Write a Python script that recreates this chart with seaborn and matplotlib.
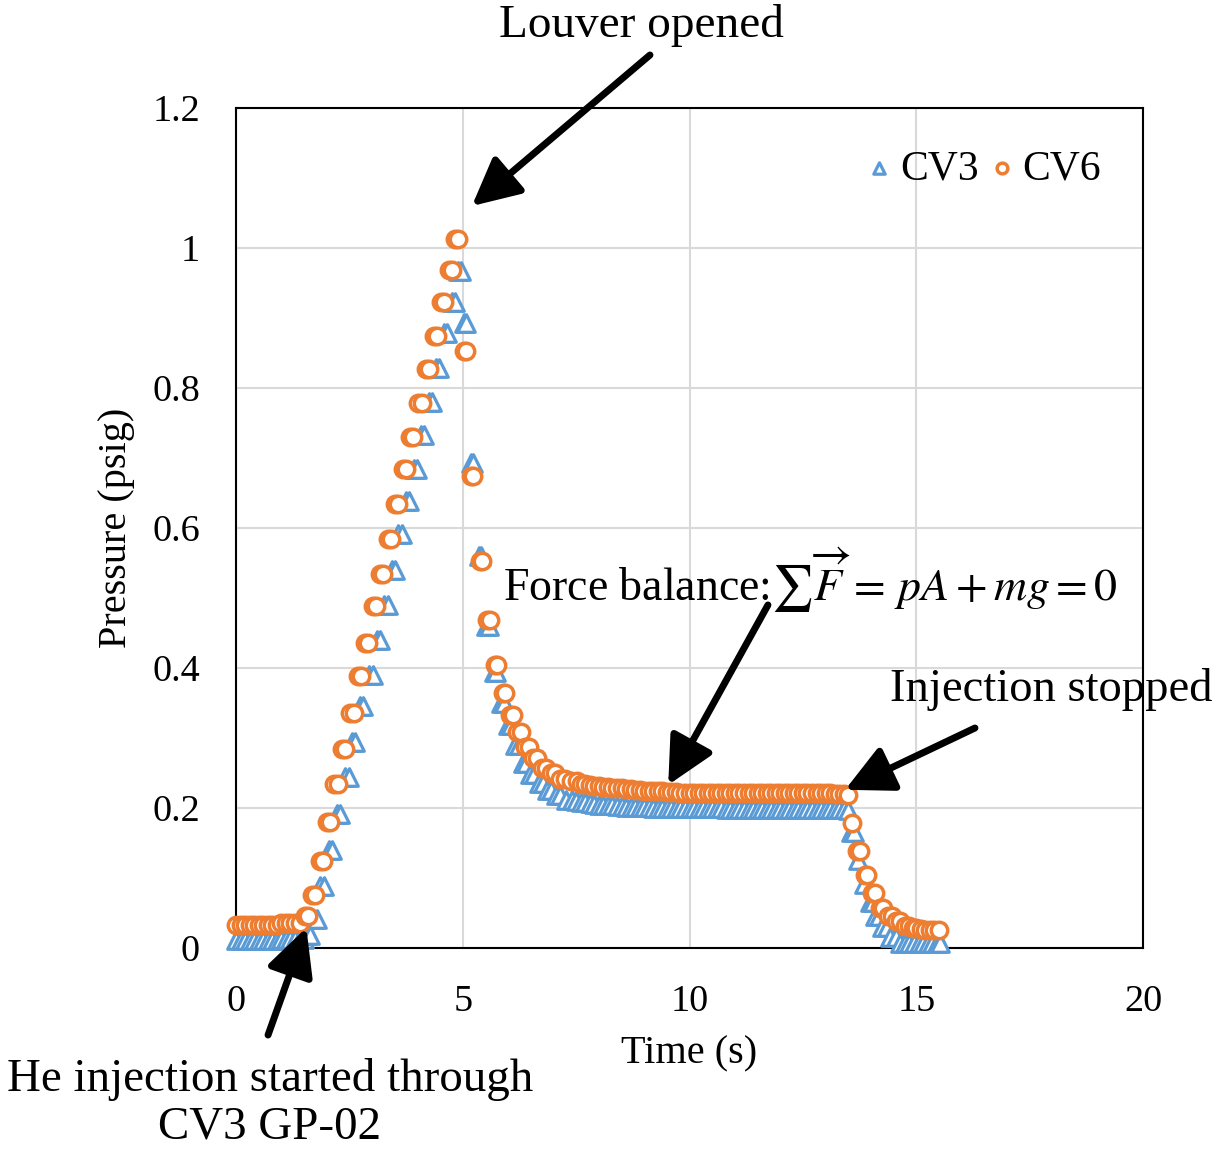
import pandas as pd
import numpy as np
import seaborn as sns
import matplotlib.pyplot as plt

# CV6 pressure readings (psig) vs time (s)
cv6_time = [
    0.0, 0.1, 0.2, 0.3, 0.4, 0.5, 0.6, 0.7, 0.8, 0.9, 1.0, 1.1, 1.2, 1.3, 1.4,
    1.52, 1.59, 1.67, 1.74, 1.84, 1.91, 2.00, 2.07, 2.17, 2.24, 2.34, 2.41,
    2.52, 2.59, 2.68, 2.75, 2.85, 2.92, 3.02, 3.09, 3.18, 3.25, 3.34, 3.41,
    3.51, 3.58, 3.68, 3.75, 3.84, 3.91, 4.02, 4.09, 4.19, 4.26, 4.36, 4.43,
    4.52, 4.59, 4.69, 4.76, 4.83, 4.90,
    5.02, 5.07, 5.18, 5.23, 5.37, 5.42, 5.54, 5.59, 5.70, 5.75, 5.88, 5.93,
    6.05, 6.10, 6.20, 6.28, 6.37, 6.45, 6.55, 6.63, 6.74, 6.84, 6.94, 7.03,
    7.14, 7.25, 7.38, 7.51,
    7.6, 7.7, 7.8, 7.9, 8.0, 8.1, 8.2, 8.3, 8.4, 8.5, 8.6, 8.7, 8.8, 8.9,
    9.0, 9.1, 9.2, 9.3, 9.4, 9.5, 9.6, 9.7, 9.8, 9.9, 10.0, 10.1, 10.2, 10.3,
    10.4, 10.5, 10.6, 10.7, 10.8, 10.9, 11.0, 11.1, 11.2, 11.3, 11.4, 11.5,
    11.6, 11.7, 11.8, 11.9, 12.0, 12.1, 12.2, 12.3, 12.4, 12.5, 12.6, 12.7,
    12.8, 12.9, 13.0, 13.1, 13.2, 13.3, 13.4, 13.5,
    13.58, 13.70, 13.75, 13.87, 13.92, 14.03, 14.09, 14.20, 14.27, 14.38,
    14.46, 14.56, 14.64, 14.75, 14.83, 14.92, 15.0, 15.1, 15.2, 15.3, 15.4,
    15.5,
]
cv6_psig = [
    0.033, 0.033, 0.033, 0.033, 0.033, 0.033, 0.033, 0.033, 0.033, 0.033,
    0.036, 0.036, 0.036, 0.036, 0.036,
    0.046, 0.046, 0.076, 0.076, 0.125, 0.125, 0.180, 0.180, 0.234, 0.234,
    0.284, 0.284, 0.336, 0.336, 0.388, 0.388, 0.436, 0.436, 0.488, 0.488,
    0.535, 0.535, 0.584, 0.584, 0.634, 0.634, 0.684, 0.684, 0.730, 0.730,
    0.779, 0.779, 0.827, 0.827, 0.874, 0.874, 0.923, 0.923, 0.969, 0.969,
    1.013, 1.013,
    0.853, 0.853, 0.674, 0.674, 0.553, 0.553, 0.469, 0.469, 0.404, 0.404,
    0.364, 0.364, 0.333, 0.333, 0.308, 0.308, 0.287, 0.287, 0.271, 0.271,
    0.257, 0.257, 0.250, 0.250, 0.242, 0.242, 0.238, 0.238,
    0.235, 0.234, 0.233, 0.232, 0.231, 0.230, 0.230, 0.229, 0.228, 0.228,
    0.227, 0.227, 0.226, 0.226, 0.225, 0.225, 0.224, 0.224, 0.224, 0.223,
    0.223, 0.223, 0.222, 0.222, 0.222, 0.222, 0.222, 0.222, 0.222, 0.222,
    0.222, 0.222, 0.221, 0.221, 0.221, 0.221, 0.221, 0.221, 0.221, 0.221,
    0.221, 0.221, 0.221, 0.221, 0.221, 0.221, 0.221, 0.221, 0.221, 0.221,
    0.221, 0.221, 0.221, 0.221, 0.221, 0.221, 0.220, 0.220, 0.220, 0.219,
    0.178, 0.138, 0.138, 0.105, 0.105, 0.078, 0.078, 0.057, 0.057, 0.045,
    0.045, 0.038, 0.038, 0.032, 0.032, 0.028, 0.028, 0.027, 0.026, 0.026,
    0.026, 0.026,
]

# CV3 pressure readings (psig) vs time (s)
cv3_time = [
    0.0, 0.1, 0.2, 0.3, 0.4, 0.5, 0.6, 0.7, 0.8, 0.9, 1.0, 1.1, 1.2, 1.3, 1.4,
    1.5, 1.56, 1.63, 1.71, 1.78, 1.86, 1.93, 2.04, 2.11, 2.22, 2.29, 2.41,
    2.48, 2.56, 2.63, 2.73, 2.80, 2.94, 3.01, 3.11, 3.18, 3.27, 3.34, 3.44,
    3.51, 3.58, 3.65, 3.75, 3.82, 3.93, 4.00, 4.08, 4.15, 4.25, 4.32, 4.41,
    4.48, 4.58, 4.65, 4.76, 4.83, 4.90, 4.97,
    5.02, 5.07, 5.18, 5.23, 5.35, 5.40, 5.52, 5.57, 5.69, 5.74, 5.85, 5.90,
    6.00, 6.06, 6.15, 6.23, 6.32, 6.40, 6.49, 6.58, 6.67, 6.76, 6.86, 6.95,
    7.05, 7.15, 7.28, 7.40, 7.50,
    7.6, 7.7, 7.8, 7.9, 8.0, 8.1, 8.2, 8.3, 8.4, 8.5, 8.6, 8.7, 8.8, 8.9,
    9.0, 9.1, 9.2, 9.3, 9.4, 9.5, 9.6, 9.7, 9.8, 9.9, 10.0, 10.1, 10.2, 10.3,
    10.4, 10.5, 10.6, 10.7, 10.8, 10.9, 11.0, 11.1, 11.2, 11.3, 11.4, 11.5,
    11.6, 11.7, 11.8, 11.9, 12.0, 12.1, 12.2, 12.3, 12.4, 12.5, 12.6, 12.7,
    12.8, 12.9, 13.0, 13.1, 13.2, 13.3, 13.4, 13.5,
    13.57, 13.62, 13.72, 13.85, 13.98, 14.04, 14.09, 14.18, 14.24, 14.35,
    14.42, 14.55, 14.64, 14.75, 14.85, 14.95, 15.05, 15.15, 15.25, 15.35,
    15.45, 15.52,
]
cv3_psig = [
    0.011, 0.011, 0.011, 0.011, 0.011, 0.011, 0.011, 0.011, 0.011, 0.011,
    0.013, 0.013, 0.013, 0.013, 0.013, 0.013,
    0.019, 0.019, 0.042, 0.042, 0.088, 0.088, 0.140, 0.140, 0.192, 0.192,
    0.245, 0.245, 0.295, 0.295, 0.346, 0.346, 0.390, 0.390, 0.440, 0.440,
    0.490, 0.490, 0.540, 0.540, 0.591, 0.591, 0.639, 0.639, 0.685, 0.685,
    0.733, 0.733, 0.780, 0.780, 0.828, 0.828, 0.878, 0.878, 0.923, 0.923,
    0.967, 0.967,
    0.893, 0.893, 0.693, 0.693, 0.560, 0.560, 0.460, 0.460, 0.395, 0.395,
    0.350, 0.350, 0.318, 0.318, 0.290, 0.290, 0.265, 0.265, 0.248, 0.248,
    0.236, 0.236, 0.226, 0.226, 0.219, 0.219, 0.212, 0.212, 0.210,
    0.209, 0.208, 0.207, 0.206, 0.205, 0.205, 0.204, 0.204, 0.203, 0.203,
    0.202, 0.202, 0.202, 0.201, 0.201, 0.201, 0.200, 0.200, 0.200, 0.200,
    0.200, 0.200, 0.200, 0.200, 0.200, 0.200, 0.200, 0.200, 0.200, 0.200,
    0.200, 0.200, 0.199, 0.199, 0.199, 0.199, 0.199, 0.199, 0.199, 0.199,
    0.199, 0.199, 0.199, 0.199, 0.199, 0.199, 0.199, 0.199, 0.199, 0.199,
    0.199, 0.199, 0.199, 0.199, 0.199, 0.199, 0.198, 0.198, 0.198, 0.197,
    0.166, 0.166, 0.126, 0.092, 0.066, 0.066, 0.045, 0.045, 0.030, 0.030,
    0.016, 0.016, 0.007, 0.007, 0.007, 0.007, 0.007, 0.007, 0.007, 0.007,
    0.007, 0.007,
]

x_ticks = [0, 5, 10, 15, 20]
y_ticks = [0, 0.2, 0.4, 0.6, 0.8, 1.0, 1.2]
y_tick_labels = ['0', '0.2', '0.4', '0.6', '0.8', '1', '1.2']

blue = '#5B9BD5'
orange = '#ED7D31'

cv3_df = pd.DataFrame({'Time (s)': cv3_time, 'Pressure (psig)': cv3_psig})
cv6_df = pd.DataFrame({'Time (s)': cv6_time, 'Pressure (psig)': cv6_psig})

sns.set_theme(style='whitegrid')
plt.rcParams['font.family'] = ['Liberation Serif', 'DejaVu Serif']
plt.rcParams['mathtext.fontset'] = 'stix'
plt.rcParams['text.color'] = 'black'
plt.rcParams['axes.labelcolor'] = 'black'

fig = plt.figure(figsize=(12.25, 11.53), dpi=100)
ax = fig.add_axes([0.1927, 0.1778, 0.7404, 0.7285])

sns.scatterplot(data=cv3_df, x='Time (s)', y='Pressure (psig)', ax=ax,
                marker='^', s=160, facecolor='white', edgecolor=blue,
                linewidth=2.3, label='CV3', clip_on=False, zorder=3)
sns.scatterplot(data=cv6_df, x='Time (s)', y='Pressure (psig)', ax=ax,
                marker='o', s=140, facecolor='white', edgecolor=orange,
                linewidth=2.5, label='CV6', clip_on=False, zorder=4)

ax.set_xlim(0, 20)
ax.set_ylim(0, 1.2)
ax.set_xticks(x_ticks)
ax.set_yticks(y_ticks)
ax.set_yticklabels(y_tick_labels)
ax.tick_params(axis='both', length=0, labelsize=27.5, pad=26, colors='black')
ax.grid(True, color='#D9D9D9', linewidth=1.5)
ax.set_facecolor('white')
for sp in ax.spines.values():
    sp.set_color('black')
    sp.set_linewidth(1.5)
    sp.set_visible(True)

ax.set_xlabel('Time (s)', fontsize=29, color='black', labelpad=12)
ax.set_ylabel('Pressure (psig)', fontsize=29, color='black', labelpad=12)

leg = ax.legend(loc='upper right', bbox_to_anchor=(0.995, 0.995), ncol=2,
                frameon=False, fontsize=30, markerscale=0.65,
                handletextpad=0.1, columnspacing=0.15, handlelength=0.8)
for t in leg.get_texts():
    t.set_color('black')

# annotations
arrow_kw = dict(arrowstyle='-|>', color='black', lw=5, mutation_scale=72,
                shrinkA=0, shrinkB=0)
fig.text(0.5233, 0.9783, 'Louver opened', fontsize=34, ha='center', va='center')
ax.annotate('', xy=(5.2, 1.06), xycoords='data', xytext=(0.5306, 0.9523),
            textcoords='figure fraction', arrowprops=arrow_kw, zorder=6)

fig.text(0.4106, 0.4970,
         r'Force balance:$\sum\overrightarrow{F}\,=\,pA+mg=0$',
         fontsize=33, ha='left', va='center')
ax.annotate('', xy=(9.53, 0.233), xycoords='data', xytext=(0.6269, 0.4753),
            textcoords='figure fraction', arrowprops=arrow_kw, zorder=6)

fig.text(0.7265, 0.4016, 'Injection stopped', fontsize=33.6, ha='left', va='center')
ax.annotate('', xy=(13.43, 0.226), xycoords='data', xytext=(0.7959, 0.3686),
            textcoords='figure fraction', arrowprops=arrow_kw, zorder=6)

fig.text(0.2204, 0.0434, 'He injection started through\nCV3 GP-02', fontsize=33.8,
         ha='center', va='center', linespacing=1.15)
ax.annotate('', xy=(1.55, 0.029), xycoords='data', xytext=(0.2188, 0.1023),
            textcoords='figure fraction', arrowprops=arrow_kw, zorder=6,
            annotation_clip=False)

fig.savefig('out.png', dpi=100, facecolor='white')
